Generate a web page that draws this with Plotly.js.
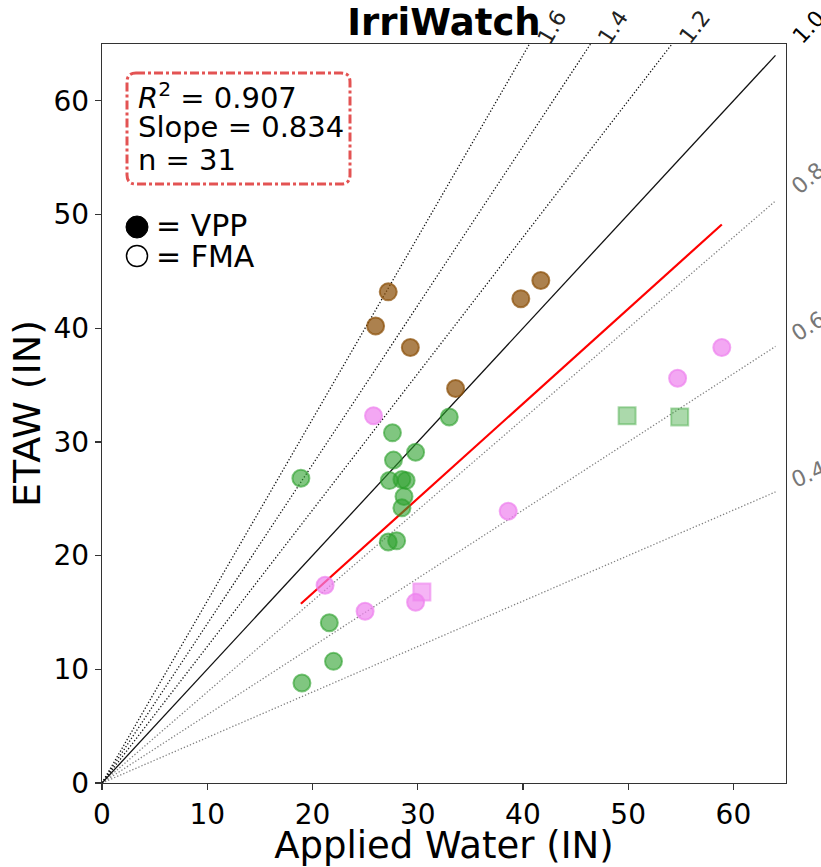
<!DOCTYPE html>
<html>
<head>
<meta charset="utf-8">
<script src="https://cdn.plot.ly/plotly-3.0.1.min.js"></script>
<style>html,body{margin:0;padding:0;background:#fff;}#chart{width:821px;height:867px;}</style>
</head>
<body>
<div id="chart"></div>
<script>
// ---- data ----
var brownX = [27.2, 26.0, 29.3, 41.7, 39.8, 33.6];
var brownY = [43.2, 40.2, 38.3, 44.2, 42.6, 34.7];
var greenX = [18.9, 27.6, 33.0, 29.8, 27.7, 27.3, 28.5, 28.9, 28.7, 28.5, 27.2, 28.0, 21.6, 22.0, 19.0];
var greenY = [26.8, 30.8, 32.2, 29.1, 28.4, 26.6, 26.7, 26.6, 25.2, 24.2, 21.2, 21.3, 14.1, 10.7, 8.8];
var pinkX = [25.8, 58.9, 54.7, 38.6, 21.2, 25.0, 29.8];
var pinkY = [32.3, 38.3, 35.6, 23.9, 17.4, 15.1, 15.9];
var greenSqX = [49.9, 54.9];
var greenSqY = [32.3, 32.2];
var pinkSqX = [30.4];
var pinkSqY = [16.8];
var refSlopes = [0.4, 0.6, 0.8, 1.0, 1.2, 1.4, 1.6];
var refLabels = ['0.4', '0.6', '0.8', '1.0', '1.2', '1.4', '1.6'];
var lineEnd = 64;
var axMax = 65;
var fitSlope = 0.834;
var statsText = ['<i>R</i><sup>2</sup> = 0.907', 'Slope = 0.834', 'n = 31'];
var markerLabels = ['= VPP', '= FMA'];
var xTicks = [0, 10, 20, 30, 40, 50, 60];
var yTicks = [0, 10, 20, 30, 40, 50, 60];

var allX = brownX.concat(greenX, pinkX, greenSqX, pinkSqX);
var minX = Math.min.apply(null, allX), maxX = Math.max.apply(null, allX);

var traces = [];
refSlopes.forEach(function (s) {
  var col = s >= 1 ? '#111' : '#808080';
  traces.push({
    x: [0, lineEnd], y: [0, lineEnd * s], mode: 'lines', type: 'scatter',
    line: {color: col, width: 1.3, dash: s === 1 ? 'solid' : '1.3px,2px'},
    hoverinfo: 'skip', showlegend: false
  });
});
traces.push({
  x: [minX, maxX], y: [minX * fitSlope, maxX * fitSlope], mode: 'lines', type: 'scatter',
  line: {color: '#ff0000', width: 2.2}, showlegend: false
});
function pts(x, y, col, sym, size) {
  return {
    x: x, y: y, mode: 'markers', type: 'scatter', showlegend: false, cliponaxis: false,
    marker: {symbol: sym, size: size, color: col, line: {color: col, width: 2}}
  };
}
traces.push(pts(greenSqX, greenSqY, 'rgba(44,160,44,0.4)', 'square', 17));
traces.push(pts(pinkSqX, pinkSqY, 'rgba(238,130,238,0.6)', 'square', 17));
traces.push(pts(brownX, brownY, 'rgba(140,80,10,0.72)', 'circle', 17));
traces.push(pts(greenX, greenY, 'rgba(44,160,44,0.6)', 'circle', 17));
traces.push(pts(pinkX, pinkY, 'rgba(238,130,238,0.7)', 'circle', 17));

function px(v) { return (v - 102) / 684; }
function py(v) { return (783 - v) / 739; }

var annotations = [];
refSlopes.forEach(function (s, i) {
  var ang = Math.atan(s * (739 / 65) / (684 / 65)) * 180 / Math.PI;
  if (s >= 1) {
    annotations.push({
      x: axMax / s, y: axMax, xref: 'x', yref: 'y', text: refLabels[i], showarrow: false,
      textangle: -ang, xanchor: 'center', yanchor: 'middle', xshift: 22, yshift: 17,
      font: {family: 'DejaVu Sans', size: 22, color: s === 1 ? '#000' : '#222'}
    });
  } else {
    annotations.push({
      x: axMax, y: axMax * s, xref: 'x', yref: 'y', text: refLabels[i], showarrow: false,
      textangle: -ang, xanchor: 'center', yanchor: 'middle', xshift: 22, yshift: 13,
      font: {family: 'DejaVu Sans', size: 22, color: '#777'}
    });
  }
});
var statY = [96, 127, 160];
statsText.forEach(function (t, i) {
  annotations.push({
    xref: 'paper', yref: 'paper', x: px(136), y: py(statY[i]),
    xanchor: 'left', yanchor: 'middle', align: 'left', showarrow: false,
    text: t, font: {family: 'DejaVu Sans', size: 29, color: '#000'}
  });
});
var legY = [226, 256];
markerLabels.forEach(function (t, i) {
  annotations.push({
    xref: 'paper', yref: 'paper', x: px(154), y: py(legY[i]),
    xanchor: 'left', yanchor: 'middle', showarrow: false,
    text: t, font: {family: 'DejaVu Sans', size: 30, color: '#000'}
  });
});

var L = 127, R = 350, T = 73, B = 184, r = 9;
var path = 'M' + px(L + r) + ',' + py(T) +
  ' L' + px(R - r) + ',' + py(T) + ' Q' + px(R) + ',' + py(T) + ' ' + px(R) + ',' + py(T + r) +
  ' L' + px(R) + ',' + py(B - r) + ' Q' + px(R) + ',' + py(B) + ' ' + px(R - r) + ',' + py(B) +
  ' L' + px(L + r) + ',' + py(B) + ' Q' + px(L) + ',' + py(B) + ' ' + px(L) + ',' + py(B - r) +
  ' L' + px(L) + ',' + py(T + r) + ' Q' + px(L) + ',' + py(T) + ' ' + px(L + r) + ',' + py(T) + ' Z';

var shapes = [
  {type: 'path', xref: 'paper', yref: 'paper', path: path,
   line: {color: 'rgba(220,40,40,0.8)', width: 3, dash: 'dashdot'}, fillcolor: 'rgba(255,255,255,0.8)'},
  {type: 'circle', xref: 'paper', yref: 'paper', xsizemode: 'pixel', ysizemode: 'pixel',
   xanchor: px(137), yanchor: py(227), x0: -11, x1: 11, y0: -11, y1: 11,
   fillcolor: '#000', line: {color: '#000', width: 1}},
  {type: 'circle', xref: 'paper', yref: 'paper', xsizemode: 'pixel', ysizemode: 'pixel',
   xanchor: px(137), yanchor: py(256), x0: -10.5, x1: 10.5, y0: -10.5, y1: 10.5,
   fillcolor: '#fff', line: {color: '#000', width: 1.5}}
];

var axisCommon = {
  range: [0, axMax], showgrid: false, zeroline: false, showline: true, mirror: true,
  linecolor: '#333', linewidth: 1.2, ticks: 'outside', ticklen: 6, tickwidth: 1.2, tickcolor: '#333',
  tickfont: {family: 'DejaVu Sans', size: 28, color: '#000'}
};
var layout = {
  width: 821, height: 867,
  margin: {l: 102, r: 35, t: 44, b: 84},
  paper_bgcolor: '#fff', plot_bgcolor: '#fff',
  title: {text: '<b>IrriWatch</b>', x: 0.5, xref: 'paper', y: 1 - 22 / 867, yref: 'container',
          yanchor: 'middle', font: {family: 'DejaVu Sans', size: 37, color: '#000'}},
  xaxis: Object.assign({}, axisCommon, {tickvals: xTicks,
    title: {text: 'Applied Water (IN)', standoff: 4, font: {family: 'DejaVu Sans', size: 37, color: '#000'}}}),
  yaxis: Object.assign({}, axisCommon, {tickvals: yTicks,
    title: {text: 'ETAW (IN)', standoff: 1, font: {family: 'DejaVu Sans', size: 38, color: '#000'}}}),
  annotations: annotations,
  shapes: shapes,
  showlegend: false
};
Plotly.newPlot('chart', traces, layout, {displayModeBar: false, staticPlot: true});
</script>
</body>
</html>
